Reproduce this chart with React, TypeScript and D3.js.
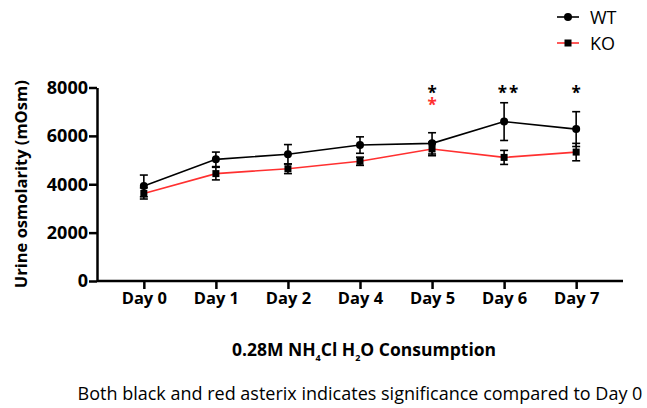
import React, { useEffect, useRef } from 'react';
import * as d3 from 'd3';

// values (mean ± SEM)
const days = ['Day 0', 'Day 1', 'Day 2', 'Day 4', 'Day 5', 'Day 6', 'Day 7'];
const wtMean = [3930, 5030, 5240, 5620, 5690, 6590, 6280];
const wtSem = [450, 300, 400, 340, 440, 780, 720];
const koMean = [3620, 4440, 4640, 4950, 5460, 5110, 5330];
const koSem = [230, 260, 200, 170, 280, 290, 360];
const wtStars = ['', '', '', '', '*', '**', '*'];
const koStars = ['', '', '', '', '*', '', ''];
const yTicks = [0, 2000, 4000, 6000, 8000];

const FONT = "'Open Sans', 'Liberation Sans', sans-serif";

const App: React.FC = () => {
  const ref = useRef<SVGSVGElement>(null);

  useEffect(() => {
    const svg = d3.select(ref.current);
    svg.selectAll('*').remove();

    const left = 97, right = 623, top = 87.5, bottom = 281;

    const x = d3.scalePoint<string>().domain(days).range([left, right]).padding(0.65);
    const y = d3.scaleLinear().domain([0, 8000]).range([bottom, top]);

    const g = svg.append('g');

    // y axis
    const ya = g.append('g').attr('transform', `translate(${left},0)`)
      .call(d3.axisLeft(y).tickValues(yTicks).tickFormat(d3.format('d')).tickSize(8).tickSizeOuter(0));
    ya.select('.domain').attr('stroke-width', 2.5);
    ya.selectAll('.tick line').attr('stroke-width', 2.5);
    ya.selectAll('.tick text').attr('font-family', FONT).attr('font-weight', 'bold')
      .attr('font-size', 18).attr('fill', '#000').attr('x', -9);

    // x axis
    const xa = g.append('g').attr('transform', `translate(0,${bottom})`)
      .call(d3.axisBottom(x).tickSize(8).tickSizeOuter(0));
    xa.select('.domain').attr('stroke-width', 2.5).attr('d', `M${left},0H${right}`);
    xa.selectAll('.tick line').attr('stroke-width', 2.5);
    xa.selectAll('.tick text').attr('font-family', FONT).attr('font-weight', 'bold')
      .attr('font-size', 16.5).attr('fill', '#000').attr('y', 11);

    const series = [
      { mean: koMean, sem: koSem, color: '#ff3030', shape: 'square' },
      { mean: wtMean, sem: wtSem, color: '#000', shape: 'circle' },
    ];

    const line = d3.line<number>().x((_, i) => x(days[i])!).y(d => y(d));

    series.forEach(s => {
      g.append('path').datum(s.mean).attr('d', line).attr('fill', 'none')
        .attr('stroke', s.color).attr('stroke-width', 1.6);

      const eb = g.append('g');
      s.mean.forEach((m, i) => {
        const cx = x(days[i])!;
        const y0 = y(m - s.sem[i]), y1 = y(m + s.sem[i]);
        eb.append('line').attr('x1', cx).attr('x2', cx).attr('y1', y0).attr('y2', y1)
          .attr('stroke', '#000').attr('stroke-width', 1.6);
        [y0, y1].forEach(yy => eb.append('line').attr('x1', cx - 4).attr('x2', cx + 4)
          .attr('y1', yy).attr('y2', yy).attr('stroke', '#000').attr('stroke-width', 1.6));
      });

      s.mean.forEach((m, i) => {
        const cx = x(days[i])!;
        if (s.shape === 'circle') {
          g.append('circle').attr('cx', cx).attr('cy', y(m)).attr('r', 4).attr('fill', '#000');
        } else {
          g.append('rect').attr('x', cx - 3.5).attr('y', y(m) - 3.5)
            .attr('width', 7).attr('height', 7).attr('fill', '#000');
        }
      });
    });

    // significance marks
    const starRows = [
      { stars: wtStars, color: '#000', level: 7520 },
      { stars: koStars, color: '#ff3030', level: 7030 },
    ];
    starRows.forEach(r => {
      r.stars.forEach((s, i) => {
        if (!s) return;
        g.append('text').attr('x', x(days[i])! + (s.length > 1 ? 5 : 1)).attr('y', y(r.level))
          .attr('text-anchor', 'middle').attr('font-family', FONT).attr('font-weight', 'bold')
          .attr('font-size', 17).attr('letter-spacing', 2).attr('fill', r.color).text(s);
      });
    });

    // axis titles
    svg.append('text').attr('transform', `translate(27,${(top + bottom) / 2}) rotate(-90)`)
      .attr('text-anchor', 'middle').attr('font-family', FONT).attr('font-weight', 'bold')
      .attr('font-size', 16.5).attr('fill', '#000').text('Urine osmolarity (mOsm)');

    const xt = svg.append('text').attr('x', 364).attr('y', 356).attr('text-anchor', 'middle')
      .attr('font-family', FONT).attr('font-weight', 'bold').attr('font-size', 17.5).attr('fill', '#000');
    xt.append('tspan').text('0.28M NH');
    xt.append('tspan').attr('font-size', 9).attr('dy', 5).text('4');
    xt.append('tspan').attr('dy', -5).text('Cl H');
    xt.append('tspan').attr('font-size', 9).attr('dy', 5).text('2');
    xt.append('tspan').attr('dy', -5).text('O Consumption');

    svg.append('text').attr('x', 360).attr('y', 400).attr('text-anchor', 'middle')
      .attr('font-family', FONT).attr('font-size', 18).attr('fill', '#000')
      .text('Both black and red asterix indicates significance compared to Day 0');

    // legend
    const legend = [
      { label: 'WT', color: '#000', shape: 'circle' },
      { label: 'KO', color: '#ff3030', shape: 'square' },
    ];
    legend.forEach((l, i) => {
      const ly = 17 + i * 26;
      svg.append('line').attr('x1', 557).attr('x2', 579).attr('y1', ly).attr('y2', ly)
        .attr('stroke', l.color).attr('stroke-width', 1.6);
      if (l.shape === 'circle') {
        svg.append('circle').attr('cx', 568).attr('cy', ly).attr('r', 4).attr('fill', '#000');
      } else {
        svg.append('rect').attr('x', 564.5).attr('y', ly - 3.5).attr('width', 7).attr('height', 7).attr('fill', '#000');
      }
      svg.append('text').attr('x', 590).attr('y', ly + 7).attr('font-family', FONT)
        .attr('font-size', 18).attr('fill', '#000').text(l.label);
    });
  }, []);

  return (
    <svg ref={ref} width={647} height={408}
      style={{ position: 'absolute', left: 0, top: 0, background: '#fff' }} />
  );
};

export default App;
